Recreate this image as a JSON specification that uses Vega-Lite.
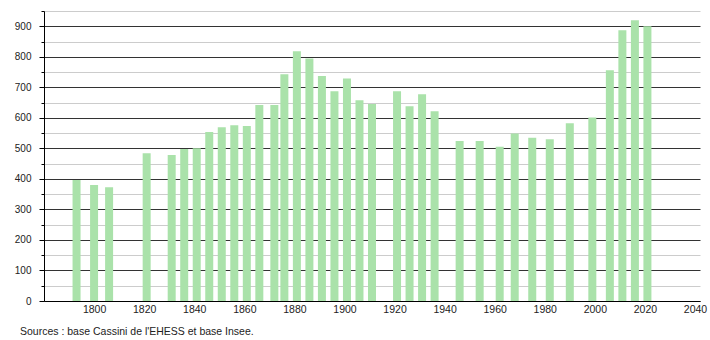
{
  "$schema": "https://vega.github.io/schema/vega-lite/v6.json",
  "autosize": {"type": "none"},
  "padding": {"left": 44, "top": 11, "right": 10, "bottom": 39},
  "width": 656,
  "height": 290,
  "background": "white",
  "config": {"view": {"stroke": null}},
  "title": {
    "text": "Sources : base Cassini de l'EHESS et base Insee.",
    "orient": "bottom",
    "anchor": "start",
    "frame": "group",
    "dx": -24,
    "offset": 12,
    "font": "Liberation Sans",
    "fontSize": 10.5,
    "fontWeight": "normal",
    "color": "#222"
  },
  "data": {
    "values": [
      {"annee": 1793, "population": 396},
      {"annee": 1800, "population": 380},
      {"annee": 1806, "population": 373},
      {"annee": 1821, "population": 484},
      {"annee": 1831, "population": 478},
      {"annee": 1836, "population": 498},
      {"annee": 1841, "population": 500},
      {"annee": 1846, "population": 554},
      {"annee": 1851, "population": 569},
      {"annee": 1856, "population": 576},
      {"annee": 1861, "population": 573},
      {"annee": 1866, "population": 642},
      {"annee": 1872, "population": 642},
      {"annee": 1876, "population": 743},
      {"annee": 1881, "population": 818},
      {"annee": 1886, "population": 794},
      {"annee": 1891, "population": 737},
      {"annee": 1896, "population": 687},
      {"annee": 1901, "population": 729},
      {"annee": 1906, "population": 658},
      {"annee": 1911, "population": 645},
      {"annee": 1921, "population": 687},
      {"annee": 1926, "population": 638},
      {"annee": 1931, "population": 677},
      {"annee": 1936, "population": 622},
      {"annee": 1946, "population": 524},
      {"annee": 1954, "population": 524},
      {"annee": 1962, "population": 505},
      {"annee": 1968, "population": 549},
      {"annee": 1975, "population": 535},
      {"annee": 1982, "population": 530},
      {"annee": 1990, "population": 582},
      {"annee": 1999, "population": 601},
      {"annee": 2006, "population": 756},
      {"annee": 2011, "population": 887},
      {"annee": 2016, "population": 920},
      {"annee": 2021, "population": 900}
    ]
  },
  "mark": {"type": "bar", "width": 8, "color": "#aae2aa"},
  "encoding": {
    "x": {
      "field": "annee",
      "type": "quantitative",
      "scale": {"domain": [1780, 2042], "nice": false, "zero": false, "padding": 0},
      "axis": {
        "title": null,
        "values": [1800, 1820, 1840, 1860, 1880, 1900, 1920, 1940, 1960, 1980, 2000, 2020, 2040],
        "format": "d",
        "grid": false,
        "ticks": false,
        "domainColor": "#000",
        "domainWidth": 1,
        "labelFont": "Liberation Sans",
        "labelFontSize": 10.5,
        "labelColor": "#222",
        "labelPadding": 3,
        "labelFlush": false,
        "labelOverlap": false
      }
    },
    "y": {
      "field": "population",
      "type": "quantitative",
      "scale": {"domain": [0, 950], "nice": false},
      "axis": {
        "title": null,
        "values": [0, 50, 100, 150, 200, 250, 300, 350, 400, 450, 500, 550, 600, 650, 700, 750, 800, 850, 900, 950],
        "labelExpr": "datum.value % 100 === 0 ? datum.label : ''",
        "grid": true,
        "gridColor": {"condition": {"test": "datum.value % 100 === 0", "value": "#333333"}, "value": "#cccccc"},
        "gridWidth": 1,
        "tickColor": "#000",
        "tickSize": {"condition": {"test": "datum.value % 100 === 0", "value": 5}, "value": 3},
        "domainColor": "#000",
        "labelFont": "Liberation Sans",
        "labelFontSize": 10,
        "labelColor": "#222",
        "labelPadding": 8,
        "labelFlush": false,
        "labelOverlap": false
      }
    }
  }
}
